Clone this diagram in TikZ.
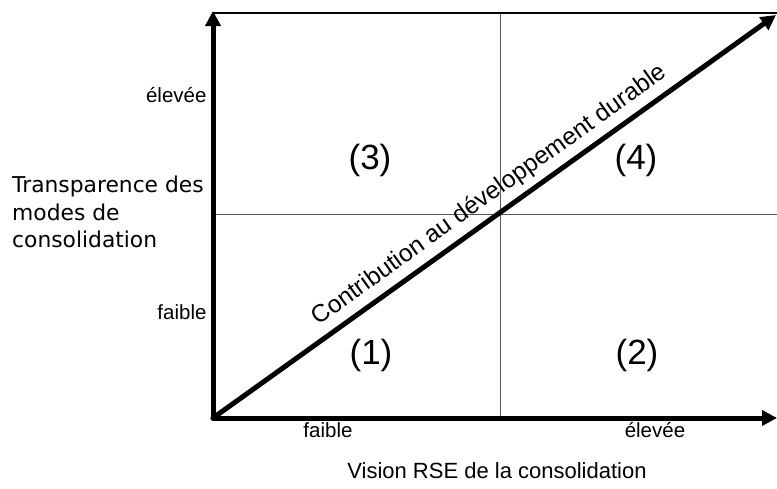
\documentclass[tikz,border=0pt]{standalone}
\usepackage{fontspec}
\setmainfont{Liberation Sans}
\newfontfamily\titrefont{DejaVu Sans}
\usetikzlibrary{arrows.meta}

\begin{document}
\begin{tikzpicture}[x=1pt,y=-1pt,
    axe/.style={line width=5pt,line cap=round,-{Triangle[length=15pt,width=15pt]}},
    milieu/.style={line width=0.9pt,color=black!65},
    niveau/.style={font=\fontsize{20.5}{24}\selectfont},
    quadrant/.style={font=\fontsize{35}{40}\selectfont}]
    \useasboundingbox (0,0) rectangle (777,488);
    \coordinate (O) at (213,418);
    \coordinate (haut) at (213,11);
    \coordinate (droite) at (777,418);
    \coordinate (diag) at (776,15);
    \coordinate (hg) at (213,13);
    \coordinate (hd) at (777,13);
    \coordinate (mh) at (500,13);
    \coordinate (mb) at (500,418);
    \coordinate (mg) at (213,214);
    \coordinate (md) at (777,214);
    % quadrillage
    \draw[milieu] (mh) -- (mb);
    \draw[milieu] (mg) -- (md);
    \draw[line width=2.5pt] (hg) -- (hd);
    % axes
    \draw[axe] (O) -- (diag) node[pos=0.512,sloped,above,inner sep=6pt,font=\fontsize{24.5}{28}\selectfont] (contrib) {Contribution au développement durable};
    \draw[axe] (O) -- (haut);
    \draw[axe] (O) -- (droite);
    \foreach \n/\x/\y in {1/371/355,2/637/355,3/370/160,4/636/160}{%
        \node[quadrant] (q\n) at (\x,\y) {(\n)};
    }
    \node[niveau,anchor=east] (yhaut) at (210,95) {élevée};
    \node[niveau,anchor=east] (ybas) at (210,312) {faible};
    \node[niveau] (xbas) at (328,430) {faible};
    \node[niveau] (xhaut) at (655,430) {élevée};
    \node[font=\fontsize{22}{26}\selectfont] (xtitre) at (497,471) {Vision RSE de la consolidation};
    \node[font=\titrefont\fontsize{21.8}{27.5}\selectfont,align=left,anchor=west,inner sep=0pt] (ytitre) at (12,212) {Transparence des\\modes de\\consolidation};
\end{tikzpicture}
\end{document}
